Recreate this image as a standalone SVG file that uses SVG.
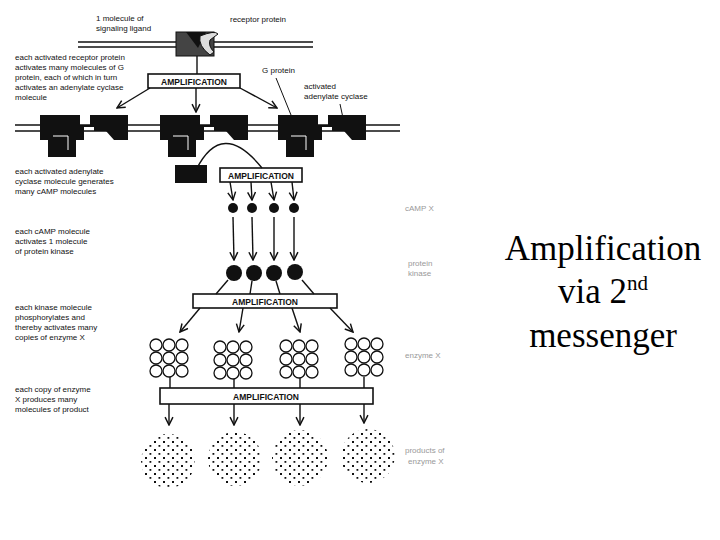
<svg xmlns="http://www.w3.org/2000/svg" width="720" height="540" viewBox="0 0 720 540">
<style>
.t{font-family:"Liberation Sans",Arial,sans-serif;font-size:8px;fill:#111}
.bx{fill:#fff;stroke:#111;stroke-width:1.6}
.bt{font-family:"Liberation Sans",Arial,sans-serif;font-size:8.5px;font-weight:bold;fill:#111;text-anchor:middle}
.ln{stroke:#111;stroke-width:1.4;fill:none}
.m{stroke:#111;stroke-width:1.3}
.g{font-family:"Liberation Sans",Arial,sans-serif;font-size:8px;fill:#999}
.big{font-family:"Liberation Serif","Times New Roman",serif;font-size:35px;fill:#000;text-anchor:middle}
.k{fill:#111}
.o{fill:#fff;stroke:#111;stroke-width:1.3}
</style>
<defs>
<marker id="a" viewBox="0 0 10 10" refX="9" refY="5" markerWidth="7" markerHeight="7" orient="auto"><path d="M1,1 L9,5 L1,9" fill="none" stroke="#111" stroke-width="1.5"/></marker>
<pattern id="dots" width="9" height="8" patternUnits="userSpaceOnUse"><rect x="1" y="1" width="2" height="2" fill="#111"/><rect x="5.5" y="5" width="1.8" height="1.8" fill="#111"/></pattern>
<g id="cx"><path d="M0,0 H40 V10 H50 V0 H88 V25 H74 L66,16 H54 V12 H44 V25 H0 Z" class="k"/><rect x="8" y="15" width="28" height="27" class="k"/><path d="M13,21 H28 V35" stroke="#fff" stroke-width="1" fill="none"/></g>
<g id="grid"><circle cx="-13" cy="0" r="6" class="o"/><circle cx="0" cy="0" r="6" class="o"/><circle cx="13" cy="0" r="6" class="o"/><circle cx="-13" cy="13" r="6" class="o"/><circle cx="0" cy="13" r="6" class="o"/><circle cx="13" cy="13" r="6" class="o"/><circle cx="-13" cy="26" r="6" class="o"/><circle cx="0" cy="26" r="6" class="o"/><circle cx="13" cy="26" r="6" class="o"/></g>
</defs>
<rect width="720" height="540" fill="#fff"/>
<g id="membranes">
<line x1="78" y1="42" x2="313" y2="42" class="m"/><line x1="78" y1="47" x2="313" y2="47" class="m"/>
<line x1="15" y1="125" x2="400" y2="125" class="m"/><line x1="15" y1="131" x2="400" y2="131" class="m"/>
</g>
<g id="receptor"><rect x="176" y="32" width="38" height="24" fill="#444" stroke="#111"/><path d="M186,32 L206,32 L198,48 Z" class="k"/><path d="M200,36 Q215,30 218,34 L210,40 Q208,46 214,52 L210,55 Q198,46 200,36Z" fill="#ddd" stroke="#111"/></g>
<g id="labels" class="t">
<text x="96" y="21">1 molecule of</text><text x="96" y="31">signaling ligand</text>
<text x="230" y="22">receptor protein</text>
<text x="15" y="60">each activated receptor protein</text><text x="15" y="70">activates many molecules of G</text><text x="15" y="80">protein, each of which in turn</text><text x="15" y="90">activates an adenylate cyclase</text><text x="15" y="100">molecule</text>
<text x="262" y="73">G protein</text>
<text x="304" y="89">activated</text><text x="304" y="99">adenylate cyclase</text>
<text x="15" y="174">each activated adenylate</text><text x="15" y="184">cyclase molecule generates</text><text x="15" y="194">many cAMP molecules</text>
<text x="15" y="234">each cAMP molecule</text><text x="15" y="244">activates 1 molecule</text><text x="15" y="254">of protein kinase</text>
<text x="15" y="310">each kinase molecule</text><text x="15" y="320">phosphorylates and</text><text x="15" y="330">thereby activates many</text><text x="15" y="340">copies of enzyme X</text>
<text x="15" y="392">each copy of enzyme</text><text x="15" y="402">X produces many</text><text x="15" y="412">molecules of product</text>
</g>
<g id="gray" class="g">
<text x="405" y="211">cAMP X</text><text x="408" y="266">protein</text><text x="408" y="276">kinase</text><text x="405" y="358">enzyme X</text><text x="405" y="453">products of</text><text x="408" y="464">enzyme X</text>
</g>
<g id="complexes"><use href="#cx" x="40" y="115"/><use href="#cx" x="160" y="115"/><use href="#cx" x="278" y="115"/></g>
<g id="boxes">
<rect x="148" y="74" width="92" height="14" class="bx"/><text x="194" y="84.5" class="bt">AMPLIFICATION</text>
<rect x="220" y="168" width="82" height="14" class="bx"/><text x="261" y="178.5" class="bt">AMPLIFICATION</text>
<rect x="193" y="294" width="144" height="14" class="bx"/><text x="265" y="304.5" class="bt">AMPLIFICATION</text>
<rect x="160" y="388" width="213" height="16" class="bx"/><text x="266" y="399.5" class="bt">AMPLIFICATION</text>
<rect x="175" y="165" width="32" height="18" class="k"/>
</g>
<g id="connectors" class="ln">
<line x1="197" y1="56" x2="197" y2="74"/>
<line x1="150" y1="88" x2="117" y2="108" marker-end="url(#a)"/>
<line x1="196" y1="88" x2="196" y2="112" marker-end="url(#a)"/>
<line x1="240" y1="88" x2="277" y2="108" marker-end="url(#a)"/>
<line x1="276" y1="78" x2="291" y2="115" stroke-width="1"/>
<line x1="340" y1="104" x2="343" y2="118" stroke-width="1"/>
<path d="M196,170 Q222,118 262,168"/>
<line x1="230" y1="182" x2="233" y2="200" marker-end="url(#a)"/>
<line x1="251" y1="182" x2="252" y2="200" marker-end="url(#a)"/>
<line x1="271" y1="182" x2="274" y2="200" marker-end="url(#a)"/>
<line x1="292" y1="182" x2="294" y2="200" marker-end="url(#a)"/>
<line x1="233" y1="217" x2="234" y2="260" marker-end="url(#a)"/>
<line x1="252" y1="217" x2="253" y2="260" marker-end="url(#a)"/>
<line x1="274" y1="217" x2="274" y2="260" marker-end="url(#a)"/>
<line x1="294" y1="217" x2="294" y2="260" marker-end="url(#a)"/>
<line x1="228" y1="280" x2="216" y2="294"/><line x1="252" y1="281" x2="250" y2="294"/><line x1="276" y1="281" x2="280" y2="294"/><line x1="302" y1="280" x2="314" y2="294"/>
<line x1="200" y1="308" x2="180" y2="332" marker-end="url(#a)"/>
<line x1="243" y1="308" x2="239" y2="332" marker-end="url(#a)"/>
<line x1="292" y1="308" x2="300" y2="332" marker-end="url(#a)"/>
<line x1="330" y1="308" x2="353" y2="332" marker-end="url(#a)"/>
<line x1="170" y1="377" x2="170" y2="388"/><line x1="234" y1="377" x2="234" y2="388"/><line x1="300" y1="377" x2="300" y2="388"/><line x1="364" y1="377" x2="364" y2="388"/>
<line x1="169" y1="404" x2="169" y2="425" marker-end="url(#a)"/>
<line x1="234" y1="404" x2="234" y2="425" marker-end="url(#a)"/>
<line x1="300" y1="404" x2="300" y2="425" marker-end="url(#a)"/>
<line x1="364" y1="404" x2="364" y2="423" marker-end="url(#a)"/>
</g>
<g id="camp"><circle cx="233" cy="208" r="5" class="k"/><circle cx="252" cy="208" r="5" class="k"/><circle cx="274" cy="208" r="5" class="k"/><circle cx="294" cy="208" r="5" class="k"/></g>
<g id="kinase"><circle cx="234" cy="273" r="8" class="k"/><circle cx="254" cy="273" r="8" class="k"/><circle cx="274" cy="273" r="8" class="k"/><circle cx="295" cy="272" r="8" class="k"/></g>
<g id="enzymes"><use href="#grid" x="169" y="345"/><use href="#grid" x="233" y="347"/><use href="#grid" x="299" y="346"/><use href="#grid" x="364" y="344"/></g>
<g id="products"><circle cx="168" cy="461" r="27" fill="url(#dots)"/><circle cx="235" cy="459" r="27" fill="url(#dots)"/><circle cx="300" cy="458" r="28" fill="url(#dots)"/><circle cx="368" cy="456" r="27" fill="url(#dots)"/></g>
<g id="title">
<text x="603" y="260" class="big">Amplification</text>
<text x="603" y="303" class="big">via 2<tspan font-size="21" dy="-13">nd</tspan></text>
<text x="603" y="347" class="big">messenger</text>
</g>
</svg>
